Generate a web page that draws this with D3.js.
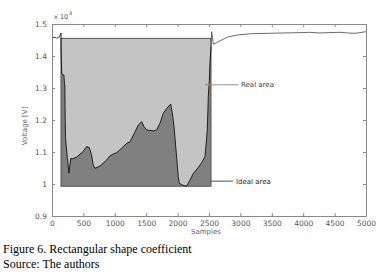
<!DOCTYPE html>
<html lang="en">
<head>
<meta charset="utf-8">
<script src="https://d3js.org/d3.v7.min.js"></script>
<style>
  body { margin: 0; background: #fff; }
  .tick text { font-family: "DejaVu Sans", sans-serif; font-size: 7.5px; fill: #555; }
  .cap { font-family: "Liberation Serif", serif; font-size: 12px; fill: #000; }
</style>
</head>
<body>
<div id="chart"></div>
<script>
// signal samples (x 1e4 V)
var samples = [0, 60, 75, 95, 120, 143, 146, 155, 190, 200, 205, 210, 215, 245, 250, 270, 300, 315, 392, 493, 551, 592, 630, 656, 685, 764, 870, 923, 976, 1030, 1109, 1190, 1242, 1322, 1374, 1428, 1465, 1508, 1613, 1667, 1720, 1772, 1826, 1890, 1916, 1943, 1975, 2011, 2027, 2065, 2118, 2145, 2198, 2250, 2330, 2384, 2436, 2473, 2489, 2505, 2516, 2532, 2543, 2569, 2623, 2702, 2807, 2967, 3206, 3471, 3700, 3949, 4100, 4268, 4400, 4586, 4700, 4825, 4900, 5000];
var voltage = [1.458, 1.458, 1.455, 1.458, 1.46, 1.472, 1.41, 1.345, 1.34, 1.31, 1.31, 1.2, 1.144, 1.08, 1.075, 1.034, 1.081, 1.078, 1.084, 1.101, 1.117, 1.114, 1.091, 1.059, 1.049, 1.056, 1.075, 1.088, 1.094, 1.098, 1.112, 1.127, 1.132, 1.163, 1.184, 1.195, 1.179, 1.169, 1.166, 1.169, 1.19, 1.221, 1.236, 1.25, 1.222, 1.179, 1.106, 1.023, 1.002, 0.998, 0.994, 0.994, 1.0125, 1.033, 1.052, 1.067, 1.085, 1.169, 1.273, 1.325, 1.38, 1.43, 1.476, 1.437, 1.442, 1.45, 1.46, 1.466, 1.47, 1.471, 1.472, 1.473, 1.474, 1.472, 1.473, 1.474, 1.472, 1.471, 1.473, 1.476];

// ideal rectangle
var rectStart = 143, rectEnd = 2532;
var rectTop = 1.455, rectBottom = 0.993;

var xTicks = d3.range(0, 5001, 500);
var yTicks = [0.9, 1, 1.1, 1.2, 1.3, 1.4, 1.5];

var W = 391, H = 276;
var margin = {top: 24, right: 25, bottom: 60, left: 52};
var width = W - margin.left - margin.right,
    height = H - margin.top - margin.bottom;

var svg = d3.select("#chart").append("svg")
    .attr("width", W).attr("height", H);
var g = svg.append("g")
    .attr("transform", "translate(" + margin.left + "," + margin.top + ")");

var x = d3.scaleLinear().domain([0, 5000]).range([0, width]);
var y = d3.scaleLinear().domain([0.9, 1.5]).range([height, 0]);

var data = samples.map(function (s, i) { return {s: s, v: voltage[i]}; });
var inside = data.filter(function (d) { return d.s >= rectStart && d.s <= rectEnd; });

// light grey ideal area
g.append("rect")
    .attr("x", x(rectStart)).attr("y", y(rectTop))
    .attr("width", x(rectEnd) - x(rectStart))
    .attr("height", y(rectBottom) - y(rectTop))
    .attr("fill", "#c4c4c4");

// dark grey real area
var area = d3.area()
    .x(function (d) { return x(d.s); })
    .y0(y(rectBottom))
    .y1(function (d) { return y(Math.max(d.v, rectBottom)); });
g.append("path").datum(inside)
    .attr("d", area).attr("fill", "#808080");

g.append("rect")
    .attr("x", x(rectStart)).attr("y", y(rectTop))
    .attr("width", x(rectEnd) - x(rectStart))
    .attr("height", y(rectBottom) - y(rectTop))
    .attr("fill", "none").attr("stroke", "#555").attr("stroke-width", 1);

// signal line
var line = d3.line()
    .x(function (d) { return x(d.s); })
    .y(function (d) { return y(d.v); });
g.append("path").datum(inside)
    .attr("d", line).attr("fill", "none")
    .attr("stroke", "#111").attr("stroke-width", 0.9);
g.append("path").datum(data.filter(function (d) { return d.s <= rectStart; }))
    .attr("d", line).attr("fill", "none")
    .attr("stroke", "#222").attr("stroke-width", 0.9);
g.append("path").datum(data.filter(function (d) { return d.s >= rectEnd; }))
    .attr("d", line).attr("fill", "none")
    .attr("stroke", "#444").attr("stroke-width", 0.8);

// axes, MATLAB style ticks inward
g.append("g").attr("transform", "translate(0," + height + ")")
    .call(d3.axisBottom(x).tickValues(xTicks).tickSizeInner(-3).tickSizeOuter(0).tickPadding(5)
      .tickFormat(d3.format("d")));
g.append("g")
    .call(d3.axisLeft(y).tickValues(yTicks).tickSizeInner(-3).tickSizeOuter(0).tickPadding(5)
      .tickFormat(function (d) { return d3.format("~g")(d); }));
g.append("g")
    .call(d3.axisTop(x).tickValues(xTicks).tickSizeInner(-3).tickSizeOuter(0).tickFormat(""));
g.append("g").attr("transform", "translate(" + width + ",0)")
    .call(d3.axisRight(y).tickValues(yTicks).tickSizeInner(-3).tickSizeOuter(0).tickFormat(""));
g.selectAll(".domain").attr("stroke", "#888");
g.selectAll(".tick line").attr("stroke", "#888");

// exponent
g.append("text").attr("x", 2).attr("y", -5)
    .attr("font-family", "DejaVu Sans, sans-serif").attr("font-size", 6.5).attr("fill", "#555")
    .text("x 10");
g.append("text").attr("x", 17).attr("y", -9)
    .attr("font-family", "DejaVu Sans, sans-serif").attr("font-size", 5).attr("fill", "#555")
    .text("4");

// axis labels
svg.append("text")
    .attr("transform", "translate(27," + (margin.top + height / 2 + 6) + ") rotate(-90)")
    .attr("text-anchor", "middle")
    .attr("font-family", "DejaVu Sans, sans-serif").attr("font-size", 7).attr("fill", "#666")
    .text("Voltage [V]");
svg.append("text")
    .attr("x", 206).attr("y", 234)
    .attr("text-anchor", "middle")
    .attr("font-family", "DejaVu Sans, sans-serif").attr("font-size", 7).attr("fill", "#666")
    .text("Samples");

// annotations
var realY = y(1.31), idealY = y(1.009);
g.append("line").attr("x1", x(rectEnd) - 6).attr("x2", x(2970))
    .attr("y1", realY).attr("y2", realY).attr("stroke", "#777").attr("stroke-width", 0.8);
g.append("circle").attr("cx", x(2505)).attr("cy", realY).attr("r", 1.2).attr("fill", "#d06020");
g.append("text").attr("x", x(3010)).attr("y", realY + 2.5)
    .attr("font-family", "DejaVu Sans, sans-serif").attr("font-size", 7).attr("fill", "#444")
    .text("Real area");
g.append("line").attr("x1", x(rectEnd)).attr("x2", x(2880))
    .attr("y1", idealY).attr("y2", idealY).attr("stroke", "#222").attr("stroke-width", 0.8);
g.append("text").attr("x", x(2930)).attr("y", idealY + 2.5)
    .attr("font-family", "DejaVu Sans, sans-serif").attr("font-size", 7).attr("fill", "#222")
    .text("Ideal area");

// caption
svg.append("text").attr("class", "cap").attr("x", 3).attr("y", 253)
    .text("Figure 6. Rectangular shape coefficient");
svg.append("text").attr("class", "cap").attr("x", 3).attr("y", 268)
    .text("Source: The authors");
</script>
</body>
</html>
